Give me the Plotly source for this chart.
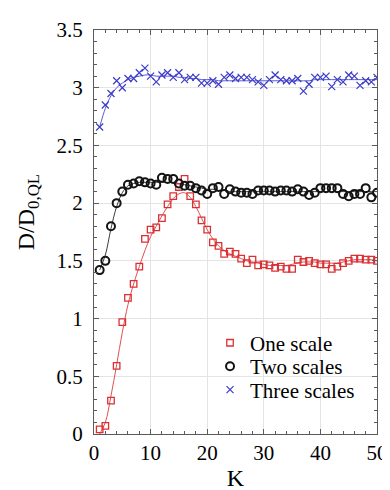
import plotly.graph_objects as go

K = list(range(1, 51))

one_scale = [0.04, 0.07, 0.29, 0.59, 0.97, 1.18, 1.30, 1.45, 1.69, 1.77,
             1.79, 1.87, 1.99, 2.06, 2.14, 2.21, 2.06, 1.99, 1.85, 1.77,
             1.66, 1.63, 1.56, 1.58, 1.56, 1.52, 1.48, 1.51, 1.46, 1.47,
             1.46, 1.44, 1.45, 1.43, 1.43, 1.51, 1.49, 1.50, 1.48, 1.47,
             1.47, 1.43, 1.45, 1.48, 1.50, 1.52, 1.52, 1.51, 1.51, 1.50]

two_scales = [1.42, 1.50, 1.80, 2.00, 2.10, 2.16, 2.17, 2.19, 2.18, 2.17,
              2.16, 2.22, 2.21, 2.21, 2.17, 2.15, 2.15, 2.13, 2.11, 2.08,
              2.13, 2.14, 2.08, 2.12, 2.10, 2.09, 2.09, 2.08, 2.11, 2.11,
              2.11, 2.10, 2.11, 2.11, 2.10, 2.12, 2.10, 2.07, 2.09, 2.13,
              2.13, 2.13, 2.13, 2.08, 2.06, 2.08, 2.08, 2.13, 2.05, 2.09]

three_scales = [2.66, 2.85, 2.95, 3.06, 3.00, 3.08, 3.08, 3.13, 3.17, 3.10,
                3.05, 3.11, 3.13, 3.09, 3.13, 3.07, 3.09, 3.09, 3.04, 3.04,
                3.06, 3.03, 3.09, 3.11, 3.08, 3.09, 3.09, 3.07, 3.05, 3.02,
                3.07, 3.11, 3.07, 3.06, 3.06, 3.08, 2.97, 3.03, 3.09, 3.09,
                3.10, 3.01, 3.07, 3.05, 3.11, 3.10, 3.02, 3.06, 3.05, 3.09]

one_fit = [0.00, 0.10, 0.33, 0.60, 0.88, 1.12, 1.30, 1.45, 1.59, 1.71,
           1.80, 1.89, 1.97, 2.04, 2.08, 2.09, 2.05, 1.97, 1.87, 1.77,
           1.69, 1.63, 1.59, 1.56, 1.54, 1.52, 1.50, 1.49, 1.48, 1.47,
           1.46, 1.46, 1.46, 1.46, 1.47, 1.48, 1.49, 1.49, 1.49, 1.48,
           1.48, 1.48, 1.48, 1.49, 1.50, 1.51, 1.51, 1.51, 1.51, 1.50]

two_fit = [1.42, 1.55, 1.78, 1.97, 2.09, 2.15, 2.17, 2.18, 2.18, 2.18,
           2.18, 2.18, 2.18, 2.18, 2.17, 2.16, 2.15, 2.14, 2.13, 2.12,
           2.12, 2.11, 2.11, 2.10, 2.10, 2.10, 2.10, 2.10, 2.10, 2.10,
           2.10, 2.10, 2.10, 2.10, 2.10, 2.10, 2.10, 2.10, 2.10, 2.10,
           2.10, 2.10, 2.10, 2.10, 2.10, 2.10, 2.10, 2.10, 2.10, 2.10]

three_fit = [2.66, 2.82, 2.93, 3.00, 3.04, 3.07, 3.09, 3.10, 3.11, 3.11,
             3.10, 3.10, 3.10, 3.10, 3.09, 3.09, 3.08, 3.08, 3.07, 3.07,
             3.07, 3.06, 3.06, 3.06, 3.06, 3.06, 3.06, 3.06, 3.06, 3.06,
             3.06, 3.06, 3.06, 3.06, 3.06, 3.06, 3.06, 3.06, 3.07, 3.07,
             3.07, 3.07, 3.07, 3.07, 3.07, 3.07, 3.07, 3.07, 3.07, 3.07]

RED = "rgb(218,48,52)"
BLACK = "rgb(20,20,20)"
BLUE = "rgb(60,60,200)"
FONT = "Liberation Serif, Times New Roman, Times, serif"

fig = go.Figure()
fig.add_trace(go.Scatter(x=K, y=one_fit, mode="lines", line=dict(color="rgb(225,80,80)", width=1, shape="spline"),
                         showlegend=False, hoverinfo="skip"))
fig.add_trace(go.Scatter(x=K, y=two_fit, mode="lines", line=dict(color="rgb(60,60,60)", width=1, shape="spline"),
                         showlegend=False, hoverinfo="skip"))
fig.add_trace(go.Scatter(x=K, y=three_fit, mode="lines", line=dict(color="rgb(90,90,210)", width=1, shape="spline"),
                         showlegend=False, hoverinfo="skip"))
fig.add_trace(go.Scatter(x=K, y=one_scale, mode="markers", name="One scale", legend="legend",
                         marker=dict(symbol="square-open", size=6.5, color=RED, line=dict(width=1.3, color=RED))))
fig.add_trace(go.Scatter(x=K, y=two_scales, mode="markers", name="Two scales", legend="legend2",
                         marker=dict(symbol="circle-open", size=8, color=BLACK, line=dict(width=2, color=BLACK))))
fig.add_trace(go.Scatter(x=K, y=three_scales, mode="markers", name="Three scales", legend="legend3",
                         marker=dict(symbol="x-thin-open", size=7, color=BLUE, line=dict(width=1.2, color=BLUE))))

axis_common = dict(
    showline=True, linecolor="rgb(90,90,90)", linewidth=1, mirror="allticks",
    ticks="inside", ticklen=5, tickcolor="rgb(90,90,90)",
    showgrid=True, gridcolor="rgb(228,228,228)", gridwidth=1,
    zeroline=False,
    tickfont=dict(family=FONT, size=21, color="black"),
)

fig.update_xaxes(range=[0, 50], dtick=10, tick0=0,
                 minor=dict(dtick=2, ticks="inside", ticklen=3, tickcolor="rgb(90,90,90)", showgrid=False),
                 title=dict(text="K", font=dict(family=FONT, size=24, color="black"), standoff=4),
                 **axis_common)
fig.update_yaxes(range=[0, 3.5], dtick=0.5, tick0=0,
                 minor=dict(dtick=0.1, ticks="inside", ticklen=3, tickcolor="rgb(90,90,90)", showgrid=False),
                 ticklabelstandoff=6,
                 **axis_common)

fig.add_annotation(text="D/D<sub>0,QL</sub>", textangle=-90, xref="paper", yref="paper",
                   x=-0.235, y=0.55, xanchor="center", yanchor="middle", showarrow=False,
                   font=dict(family=FONT, size=24, color="black"))

leg_common = dict(xanchor="left", yanchor="middle", bgcolor="rgba(0,0,0,0)",
                  font=dict(family=FONT, size=21, color="black"), itemsizing="trace")
x_leg = 0.41
fig.update_layout(
    width=390, height=490,
    margin=dict(l=86, r=10, t=13, b=64),
    paper_bgcolor="white", plot_bgcolor="white",
    legend=dict(x=x_leg, y=0.225, **leg_common),
    legend2=dict(x=x_leg, y=0.167, **leg_common),
    legend3=dict(x=x_leg, y=0.109, **leg_common),
    font=dict(family=FONT),
)

fig.write_html("out.html")
